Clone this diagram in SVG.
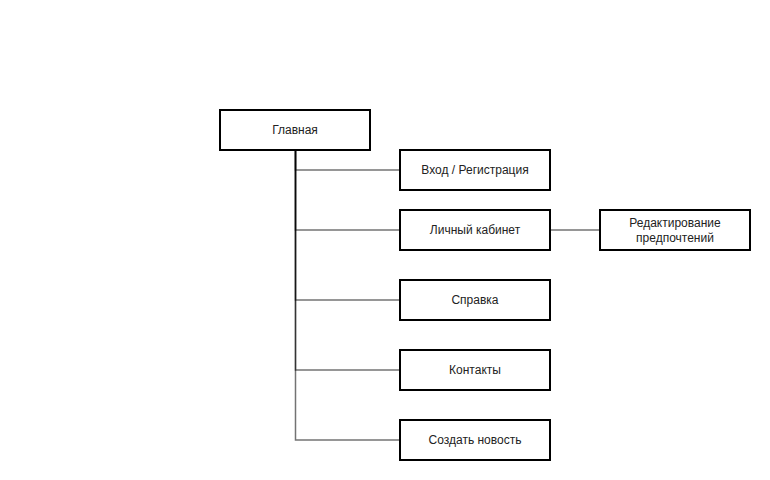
<svg xmlns="http://www.w3.org/2000/svg" width="770" height="480" viewBox="0 0 770 480">
<style>
.box{fill:#fff;stroke:#000;stroke-width:2}
.lbl{font-family:"Liberation Sans",Arial,sans-serif;font-size:12px;fill:#222;text-anchor:middle;dominant-baseline:central}
.con{fill:none;stroke:#000;stroke-opacity:0.55;stroke-width:1.5}
</style>
<rect width="770" height="480" fill="#fff"/>
<g id="connectors">
<path class="con" d="M295.5 150 V170 H400"/>
<path class="con" d="M295.5 150 V230 H400"/>
<path class="con" d="M295.5 150 V300 H400"/>
<path class="con" d="M295.5 150 V370 H400"/>
<path class="con" d="M295.5 150 V440 H400"/>
<path class="con" d="M550 230 H600"/>
</g>
<g id="glavnaya"><rect class="box" x="220" y="110" width="150" height="40"/><text class="lbl" x="295" y="130">Главная</text></g>
<g id="vhod"><rect class="box" x="400" y="150" width="150" height="40"/><text class="lbl" x="475" y="170">Вход / Регистрация</text></g>
<g id="kabinet"><rect class="box" x="400" y="210" width="150" height="40"/><text class="lbl" x="475" y="230">Личный кабинет</text></g>
<g id="redakt"><rect class="box" x="600" y="210" width="150" height="40"/><text class="lbl" x="675" y="223">Редактирование</text><text class="lbl" x="675" y="238">предпочтений</text></g>
<g id="spravka"><rect class="box" x="400" y="280" width="150" height="40"/><text class="lbl" x="475" y="300">Справка</text></g>
<g id="kontakty"><rect class="box" x="400" y="350" width="150" height="40"/><text class="lbl" x="475" y="370">Контакты</text></g>
<g id="sozdat"><rect class="box" x="400" y="420" width="150" height="40"/><text class="lbl" x="475" y="440">Создать новость</text></g>
</svg>
